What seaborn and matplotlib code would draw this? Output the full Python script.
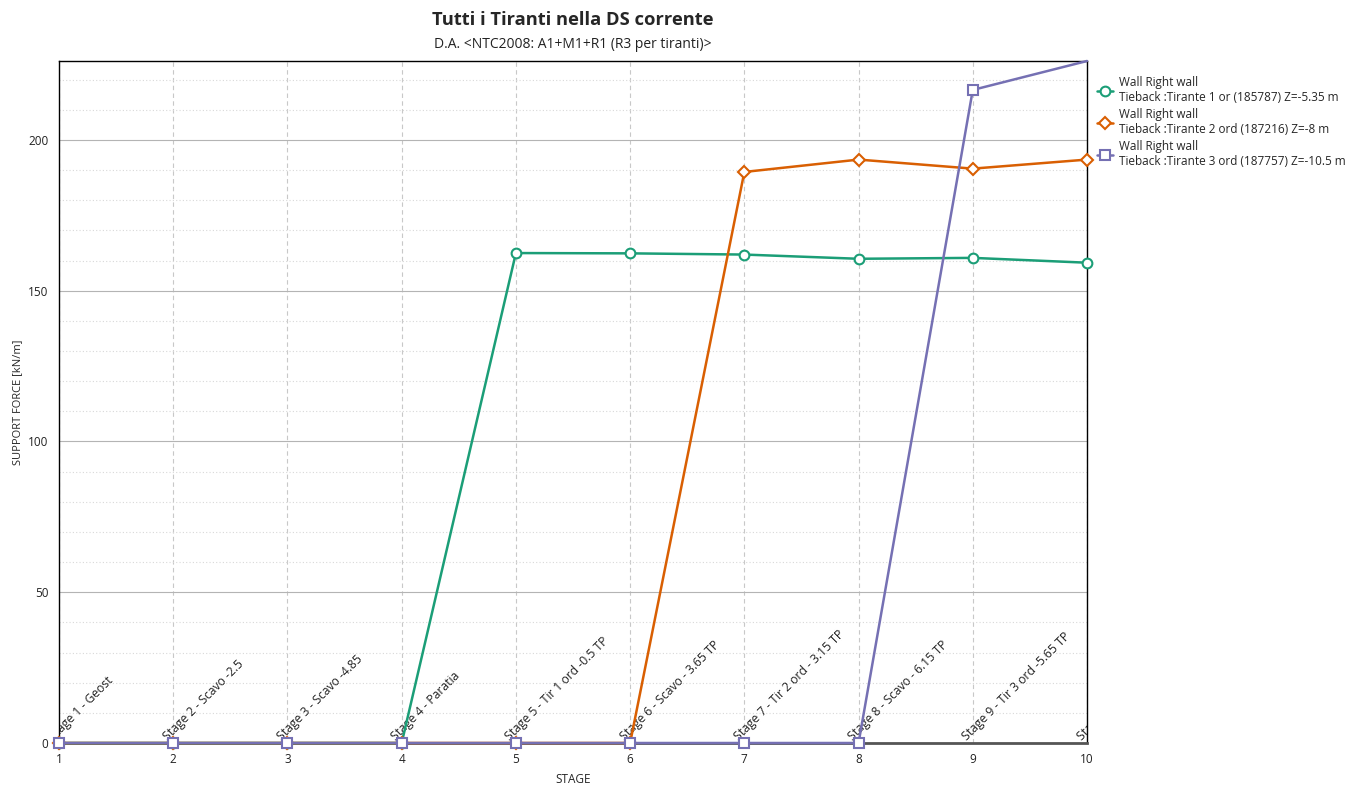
import pandas as pd
import matplotlib.pyplot as plt
import seaborn as sns
from matplotlib.ticker import MultipleLocator

# Data
stages = [1, 2, 3, 4, 5, 6, 7, 8, 9, 10]
tirante_1 = [0, 0, 0, 0, 162.5, 162.4, 162.0, 160.6, 160.9, 159.3]
tirante_2 = [0, 0, 0, 0, 0, 0, 189.4, 193.5, 190.5, 193.5]
tirante_3 = [0, 0, 0, 0, 0, 0, 0, 0, 216.6, 226.2]
series_labels = [
    "Wall Right wall\nTieback :Tirante 1 or (185787) Z=-5.35 m",
    "Wall Right wall\nTieback :Tirante 2 ord (187216) Z=-8 m",
    "Wall Right wall\nTieback :Tirante 3 ord (187757) Z=-10.5 m",
]
stage_names = [
    "Stage 1 - Geost",
    "Stage 2 - Scavo -2.5",
    "Stage 3 - Scavo -4.85",
    "Stage 4 - Paratia",
    "Stage 5 - Tir 1 ord -0.5 TP",
    "Stage 6 - Scavo - 3.65 TP",
    "Stage 7 - Tir 2 ord - 3.15 TP",
    "Stage 8 - Scavo - 6.15 TP",
    "Stage 9 - Tir 3 ord -5.65 TP",
    "Stage 10 - Scavo - 8.5 TP",
]

sns.set_style("white")
plt.rcParams['font.family'] = ['Open Sans', 'DejaVu Sans']

colors = sns.color_palette("Dark2", 3)
markers = ["o", "D", "s"]
msizes = [7, 6, 7]

fig = plt.figure(figsize=(13.63, 7.85), dpi=100)
ax = fig.add_axes([0.0433, 0.0535, 0.7542, 0.8688])

all_series = [tirante_1, tirante_2, tirante_3]
for i, vals in enumerate(all_series):
    df = pd.DataFrame({"stage": stages, "force": vals})
    kw = {}
    if i == 2:
        kw["markevery"] = list(range(len(stages) - 1))
    sns.lineplot(data=df, x="stage", y="force", ax=ax, color=colors[i],
                 marker=markers[i], markersize=msizes[i], markerfacecolor="white",
                 markeredgecolor=colors[i], markeredgewidth=1.5, linewidth=1.8,
                 label=series_labels[i], clip_on=False, zorder=3 + i, **kw)

ax.set_xlim(1, 10)
ax.set_ylim(0, 226.2)
ax.xaxis.set_major_locator(MultipleLocator(1))
ax.yaxis.set_major_locator(MultipleLocator(50))
ax.yaxis.set_minor_locator(MultipleLocator(10))

# grid
ax.grid(axis="x", which="major", color="#c8c8c8", linestyle=(0, (4, 3)), linewidth=0.8)
ax.grid(axis="y", which="major", color="#b4b4b4", linestyle="-", linewidth=0.8)
ax.grid(axis="y", which="minor", color="#d8d8d8", linestyle=(0, (1, 2)), linewidth=0.8)
ax.set_axisbelow(True)

for side in ["left", "top", "right"]:
    ax.spines[side].set_color("black")
    ax.spines[side].set_linewidth(1.0)
ax.spines["bottom"].set_color("#555555")
ax.spines["bottom"].set_linewidth(2.0)

ax.tick_params(axis="both", which="both", direction="out", colors="black",
               labelcolor="#222222", labelsize=8.5, length=4, width=1)

ax.set_xlabel("STAGE", fontsize=8.5, labelpad=5)
ax.set_ylabel("SUPPORT FORCE [kN/m]", fontsize=8, labelpad=4)

# stage annotations along the x axis
offset = plt.matplotlib.transforms.offset_copy(ax.transData, fig=fig, x=-4, y=1.5, units="points")
for s, name in zip(stages, stage_names):
    ax.text(s, 0, name, rotation=45, rotation_mode="anchor", ha="left", va="baseline",
            fontsize=8.7, color="#222222", transform=offset, clip_on=True, zorder=2)

fig.text(0.4205, 0.974, "Tutti i Tiranti nella DS corrente", ha="center", va="center",
         fontsize=13.2, fontweight="bold")
fig.text(0.4205, 0.943, "D.A. <NTC2008: A1+M1+R1 (R3 per tiranti)>", ha="center",
         va="center", fontsize=10, color="#222222")

ax.legend(loc="upper left", bbox_to_anchor=(1.005, 0.985), frameon=False, fontsize=8.5,
          handlelength=1.4, handletextpad=0.5, labelspacing=0.35, borderaxespad=0)

plt.savefig("out.png", dpi=100)
